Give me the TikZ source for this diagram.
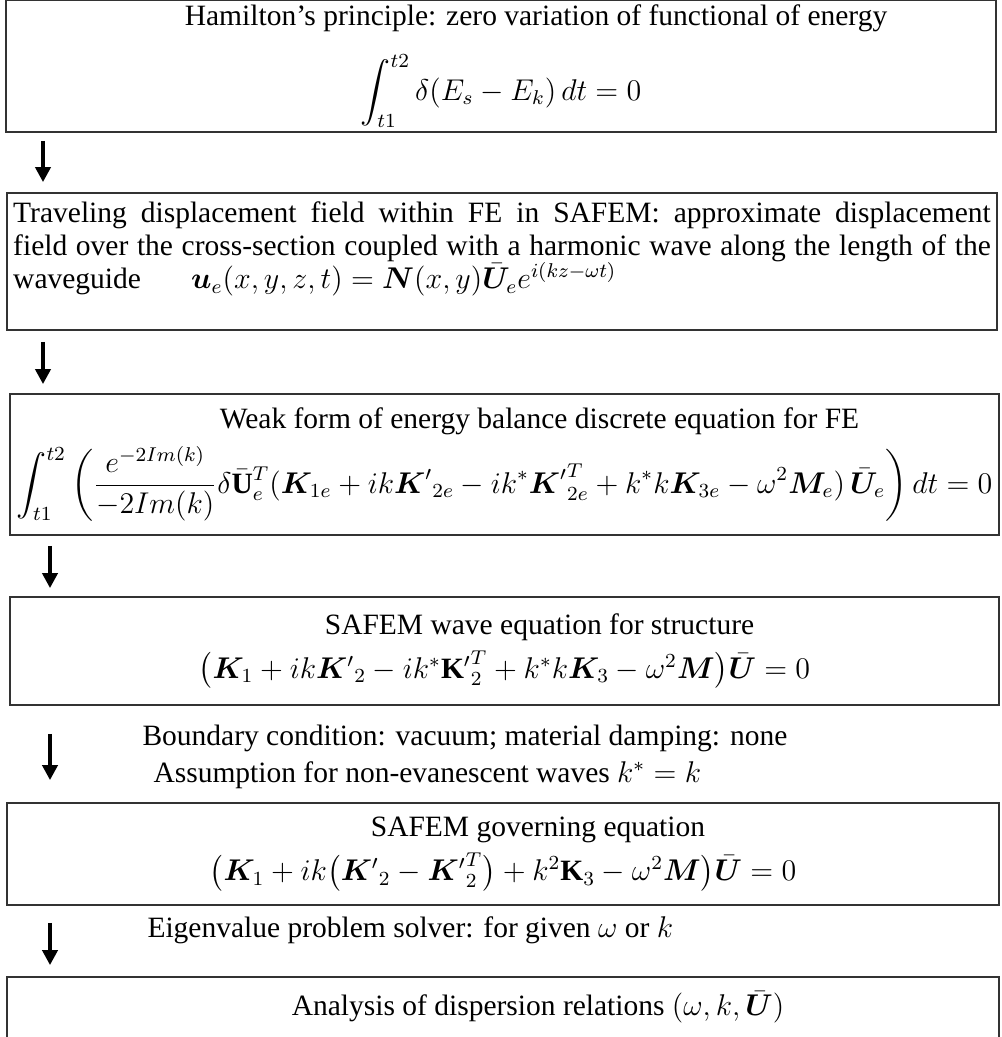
\documentclass[tikz,border=0pt]{standalone}
\usepackage{amsmath}
\usepackage{bm}
\usepackage{fontspec}
\setmainfont{Liberation Serif}
\usetikzlibrary{arrows.meta}

\newcommand{\boxtitle}[1]{\hspace*{28pt}#1}

\begin{document}
\begin{tikzpicture}[
        x=0.4pt, y=-0.4pt,
        every node/.style={font=\fontsize{11.8pt}{13.2pt}\selectfont},
        box/.style={
            draw=black!80,
            line width=0.7pt,
            align=center,
            inner xsep=2.5pt,
            inner ysep=0pt,
            minimum width=396pt
        },
        note/.style={anchor=west, inner sep=0pt},
        flow/.style={-{Triangle[width=6pt,length=6pt]}, line width=1.6pt}
    ]
        \useasboundingbox (0,0) rectangle (1001,1037);

        \node[box, minimum height=52.8pt] (b1) at (501,66)
            {\boxtitle{Hamilton’s principle: zero variation of functional of energy}\\[8pt]
             $\displaystyle\int_{t1}^{t2}\delta(E_s-E_k)\,dt=0$};
        \node[box, minimum height=54.8pt, text width=391pt, align=justify] (b2) at (502,261.5)
            {\noindent Traveling displacement field within FE in SAFEM: approximate displacement\linebreak
             field over the cross-section coupled with a harmonic wave along the length of the\linebreak
             waveguide\hspace{1.7em}$\bm{u}_e(x,y,z,t)=\bm{N}(x,y)\bar{\bm{U}}_e e^{i(kz-\omega t)}$\rule[-13pt]{0pt}{13pt}};
        \node[box, minimum height=56.4pt, minimum width=395.6pt] (b3) at (504.5,464.5)
            {\boxtitle{Weak form of energy balance discrete equation for FE}\\[4pt]
             $\displaystyle\int_{t1}^{t2}\left(\frac{e^{-2Im(k)}}{-2Im(k)}\delta\bar{\mathbf{U}}_e^T(\bm{K}_{1e}+ik{\bm{K}'}_{2e}-ik^*{\bm{K}'}^T_{2e}+k^*k\bm{K}_{3e}-\omega^2\bm{M}_e)\,\bar{\bm{U}}_e\right)dt=0$};
        \node[box, minimum height=43.2pt, minimum width=395.6pt] (b4) at (504.5,651)
            {\boxtitle{SAFEM wave equation for structure}\\[3pt]
             $\bigl(\bm{K}_1+ik{\bm{K}'}_2-ik^*{\mathbf{K}'}^T_2+k^*k\bm{K}_3-\omega^2\bm{M}\bigr)\bar{\bm{U}}=0$};
        \node[box, minimum height=40.8pt, minimum width=396.8pt] (b5) at (503,854)
            {\boxtitle{SAFEM governing equation}\\[3pt]
             $\bigl(\bm{K}_1+ik\bigl({\bm{K}'}_2-{\bm{K}'}^T_2\bigr)+k^2\mathbf{K}_3-\omega^2\bm{M}\bigr)\bar{\bm{U}}=0$};
        \node[box, minimum height=33.2pt, minimum width=396.8pt] (b6) at (503,1018.5)
            {\boxtitle{Analysis of dispersion relations $(\omega,k,\bar{\bm{U}})$}\rule[-12pt]{0pt}{12pt}};

        \node[note] (n1) at (142,738) {Boundary condition: vacuum; material damping: none};
        \node[note] (n2) at (153,775) {Assumption for non-evanescent waves $k^*=k$};
        \node[note] (n3) at (147,930) {Eigenvalue problem solver: for given $\omega$ or $k$};

        \coordinate (a1) at (43,0);
        \coordinate (a2) at (50,0);
        \draw[flow, shorten <=3.2pt, shorten >=4pt] (b1.south -| a1) -- (b2.north -| a1);
        \draw[flow, shorten <=4.4pt, shorten >=3.6pt] (b2.south -| a1) -- (b3.north -| a1);
        \draw[flow, shorten <=4pt, shorten >=3.2pt] (b3.south -| a2) -- (b4.north -| a2);
        \draw[flow, shorten <=11.2pt, shorten >=8.8pt] (b4.south -| a2) -- (b5.north -| a2);
        \draw[flow, shorten <=6.8pt, shorten >=4.4pt] (b5.south -| a2) -- (b6.north -| a2);
    \end{tikzpicture}
\end{document}
